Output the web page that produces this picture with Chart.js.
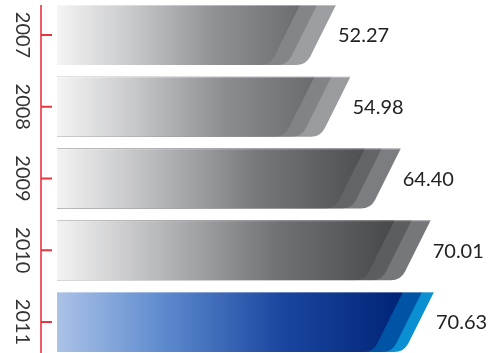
<!DOCTYPE html>
<html>
<head>
<meta charset="utf-8">
<script src="https://cdn.jsdelivr.net/npm/chart.js@4"></script>
<style>
  html, body { margin: 0; padding: 0; background: #fff; }
  #wrap { width: 492px; height: 353px; position: relative; }
</style>
</head>
<body>
<div id="wrap"><canvas id="precios"></canvas></div>
<script>
// Datos
const anios = ['2007', '2008', '2009', '2010', '2011'];
const valores = [52.27, 54.98, 64.40, 70.01, 70.63];

// Estilo de cada barra: degradado principal y dos franjas al final
const paletas = [
  { stops: ['#f4f4f4', '#c9cacc', '#909195', '#6c6d71'], media: '#848589', exterior: '#9d9ea1' },
  { stops: ['#f4f4f4', '#c7c8ca', '#8c8d91', '#6a6b6f'], media: '#828387', exterior: '#9a9b9e' },
  { stops: ['#f3f3f3', '#bcbdc0', '#76787b', '#4e4f52'], media: '#636467', exterior: '#7c7d80' },
  { stops: ['#f3f3f3', '#b8b9bb', '#707275', '#47484a'], media: '#5c5d5f', exterior: '#76777a' },
  { stops: ['#abc2e7', '#5f8ccf', '#1a46a0', '#002476'], media: '#0054a6', exterior: '#0a8fd2', azul: true }
];

function formaBarra(ctx, base, fin, arriba, abajo, r) {
  const h = abajo - arriba;
  ctx.beginPath();
  ctx.moveTo(base, arriba);
  ctx.lineTo(fin, arriba);
  ctx.arcTo(fin - h * 0.5, abajo, base, abajo, r);
  ctx.lineTo(base, abajo);
  ctx.closePath();
}

const barrasInclinadas = {
  id: 'barrasInclinadas',
  afterDatasetsDraw(chart) {
    const ctx = chart.ctx;
    const meta = chart.getDatasetMeta(0);
    const yScale = chart.scales.y;
    ctx.save();

    // eje vertical rojo con sus marcas
    const ejeX = 41;
    ctx.strokeStyle = '#ef5a66';
    ctx.lineWidth = 2;
    ctx.beginPath();
    ctx.moveTo(ejeX, 5);
    ctx.lineTo(ejeX, chart.height);
    ctx.stroke();
    ctx.strokeStyle = '#e8343f';
    anios.forEach((a, i) => {
      const y = yScale.getPixelForValue(i);
      ctx.beginPath();
      ctx.moveTo(ejeX, y);
      ctx.lineTo(ejeX + 11, y);
      ctx.stroke();
    });

    meta.data.forEach((el, i) => {
      const p = paletas[i];
      const arriba = el.y - el.height / 2;
      const abajo = el.y + el.height / 2;
      const base = el.base;
      const fin = el.x;
      const w1 = p.azul ? 12 : 19;
      const w2 = p.azul ? 31 : 36;
      const r = 16;

      formaBarra(ctx, base, fin, arriba, abajo, r);
      ctx.fillStyle = p.exterior;
      ctx.fill();
      ctx.save();
      ctx.clip();
      formaBarra(ctx, base, fin - w1, arriba, abajo, r);
      ctx.fillStyle = p.media;
      ctx.fill();
      const g = ctx.createLinearGradient(base, 0, fin - w2, 0);
      g.addColorStop(0, p.stops[0]);
      g.addColorStop(0.3, p.stops[1]);
      g.addColorStop(0.65, p.stops[2]);
      g.addColorStop(1, p.stops[3]);
      formaBarra(ctx, base, fin - w2, arriba, abajo, r);
      ctx.fillStyle = g;
      ctx.fill();
      // brillo fino en el borde superior
      ctx.fillStyle = 'rgba(255,255,255,0.35)';
      ctx.fillRect(base, arriba, fin - base, 1);
      ctx.restore();

      // valor a la derecha de la barra
      ctx.fillStyle = '#222';
      ctx.font = '20px Lato';
      ctx.textAlign = 'left';
      ctx.textBaseline = 'middle';
      ctx.fillText(valores[i].toFixed(2), fin + 2, el.y + 1);

      // año girado junto al eje
      ctx.save();
      ctx.translate(22, el.y);
      ctx.rotate(Math.PI / 2);
      ctx.fillStyle = '#333';
      ctx.font = '20px Lato';
      ctx.textAlign = 'center';
      ctx.textBaseline = 'middle';
      ctx.fillText(anios[i], 0, 0);
      ctx.restore();
    });
    ctx.restore();
  }
};

new Chart(document.getElementById('precios'), {
  type: 'bar',
  data: {
    labels: anios,
    datasets: [{
      data: valores,
      backgroundColor: 'rgba(0,0,0,0)',
      barThickness: 60,
      clip: false
    }]
  },
  options: {
    indexAxis: 'y',
    responsive: true,
    maintainAspectRatio: false,
    animation: false,
    layout: { padding: { left: 57, right: 8, top: 35, bottom: 31 } },
    plugins: { legend: { display: false }, tooltip: { enabled: false } },
    scales: {
      x: { display: false, min: 0, max: 80 },
      y: { display: false, offset: false }
    }
  },
  plugins: [barrasInclinadas]
});
</script>
</body>
</html>
